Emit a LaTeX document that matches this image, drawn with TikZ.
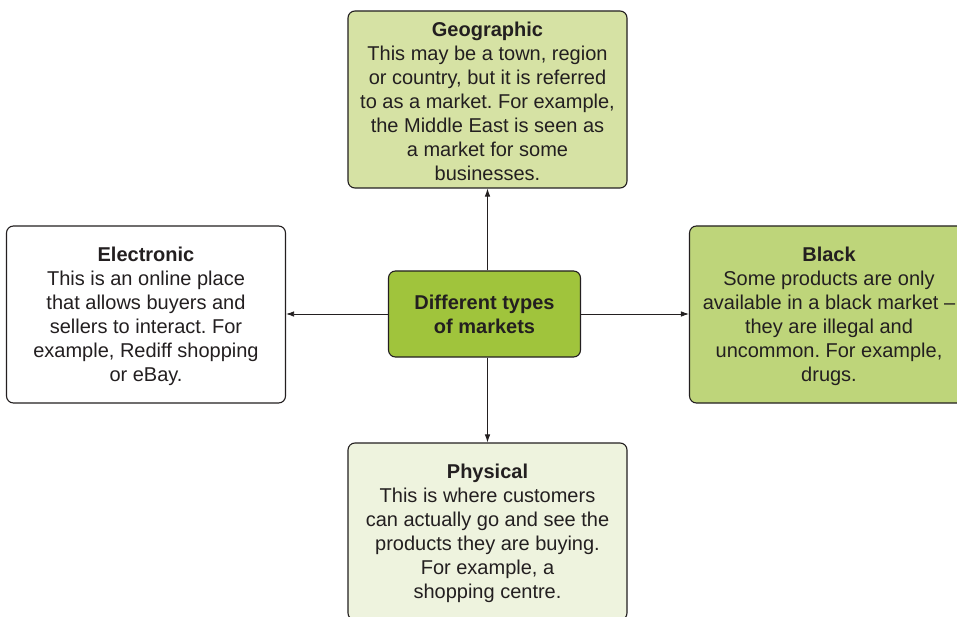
\documentclass[tikz,border=0pt]{standalone}
\usepackage{fontspec}
\setmainfont{Liberation Sans}
\usetikzlibrary{arrows.meta}
\definecolor{geofill}{RGB}{214,226,164}
\definecolor{blackfill}{RGB}{190,213,122}
\definecolor{physfill}{RGB}{238,243,222}
\definecolor{centfill}{RGB}{160,196,60}
\definecolor{linec}{RGB}{35,31,32}
\newcommand{\topstrut}{\rule{0pt}{18.5pt}}
\begin{document}
\frenchspacing
\begin{tikzpicture}[x=1pt,y=-1pt,
  box/.style={draw=linec, line width=1.1pt, rounded corners=7pt,
    minimum width=279pt, minimum height=177pt, inner sep=0pt,
    align=center, font=\fontsize{20}{24}\selectfont, text=linec},
  centbox/.style={box, fill=centfill, minimum width=192pt, minimum height=86pt,
    font=\fontsize{20}{24}\selectfont\bfseries},
  conn/.style={draw=linec, line width=0.8pt, -{Latex[length=8pt,width=5.5pt]}}]
\clip (0,0) rectangle (957,617);
\fill[white] (0,0) rectangle (957,617);
\node[box, fill=geofill] (geo) at (487.5,99.5) {\topstrut\textbf{Geographic}\\This may be a town, region\\or country, but it is referred\\to as a market. For example,\\the Middle East is seen as\\a market for some\\businesses.};
\node[box, fill=white] (el) at (146,314.5) {\topstrut\textbf{Electronic}\\This is an online place\\that allows buyers and\\sellers to interact. For\\example, Rediff shopping\\or eBay.};
\node[box, fill=blackfill] (bl) at (829,314.5) {\topstrut\textbf{Black}\\Some products are only\\available in a black market --\\they are illegal and\\uncommon. For example,\\drugs.};
\node[box, fill=physfill] (ph) at (487.5,531.5) {\topstrut\textbf{Physical}\\This is where customers\\can actually go and see the\\products they are buying.\\For example, a\\shopping centre.};
\node[centbox] (c) at (484.5,314) {Different types\\of markets};
\draw[conn] (c.north -| geo.south) -- (geo.south);
\draw[conn] (c.south -| ph.north) -- (ph.north);
\draw[conn] (c.west) -- (c.west -| el.east);
\draw[conn] (c.east) -- (c.east -| bl.west);
\end{tikzpicture}
\end{document}
